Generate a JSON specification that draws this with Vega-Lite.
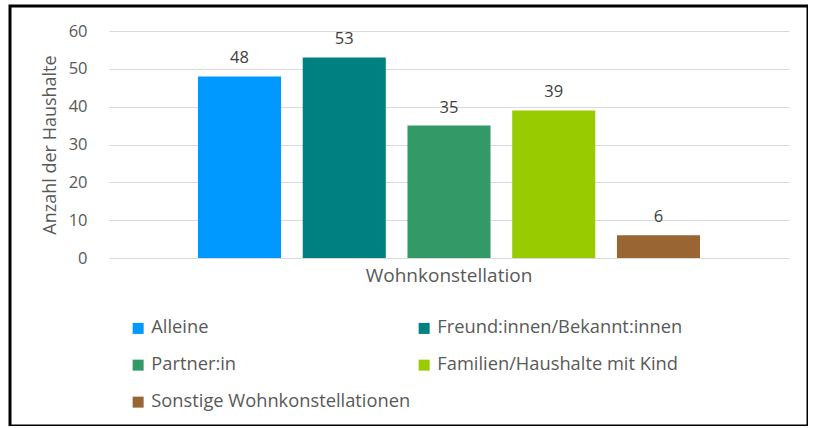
{
  "$schema": "https://vega.github.io/schema/vega-lite/v6.json",
  "width": 798,
  "height": 420,
  "autosize": {"type": "none"},
  "padding": {"left": 10, "top": 6, "right": 0, "bottom": 0},
  "background": "white",
  "config": {
    "view": {"stroke": "black", "strokeWidth": 3},
    "font": "Open Sans"
  },
  "data": {
    "values": [
      {"gruppe": "Wohnkonstellation", "kategorie": "Alleine", "anzahl": 48},
      {"gruppe": "Wohnkonstellation", "kategorie": "Freund:innen/Bekannt:innen", "anzahl": 53},
      {"gruppe": "Wohnkonstellation", "kategorie": "Partner:in", "anzahl": 35},
      {"gruppe": "Wohnkonstellation", "kategorie": "Familien/Haushalte mit Kind", "anzahl": 39},
      {"gruppe": "Wohnkonstellation", "kategorie": "Sonstige Wohnkonstellationen", "anzahl": 6}
    ]
  },
  "encoding": {
    "x": {
      "field": "gruppe",
      "type": "nominal",
      "scale": {"range": [99, 779], "paddingInner": 0, "paddingOuter": 0.1773},
      "axis": {
        "orient": "bottom",
        "offset": -168,
        "domain": false,
        "ticks": false,
        "tickSize": 0,
        "labelPadding": 8,
        "labelAngle": 0,
        "labelFontSize": 19,
        "labelColor": "#595959",
        "title": null,
        "grid": false
      }
    },
    "xOffset": {
      "field": "kategorie",
      "type": "nominal",
      "sort": ["Alleine", "Freund:innen/Bekannt:innen", "Partner:in", "Familien/Haushalte mit Kind", "Sonstige Wohnkonstellationen"],
      "scale": {"paddingInner": 0.207, "paddingOuter": 0}
    },
    "y": {
      "field": "anzahl",
      "type": "quantitative",
      "scale": {"domain": [0, 60], "range": [252, 25], "nice": false, "zero": true},
      "axis": {
        "values": [0, 10, 20, 30, 40, 50, 60],
        "offset": -81,
        "domain": false,
        "ticks": false,
        "tickSize": 0,
        "labelPadding": 4,
        "labelFontSize": 16.5,
        "labelColor": "#595959",
        "title": "Anzahl der Haushalte",
        "titleFontSize": 18,
        "titleFontWeight": "normal",
        "titleColor": "#595959",
        "titlePadding": 9,
        "grid": true,
        "gridColor": "#d9d9d9",
        "gridWidth": 1
      }
    }
  },
  "layer": [
    {
      "mark": {"type": "bar"},
      "encoding": {
        "color": {
          "field": "kategorie",
          "type": "nominal",
          "scale": {
            "domain": ["Alleine", "Freund:innen/Bekannt:innen", "Partner:in", "Familien/Haushalte mit Kind", "Sonstige Wohnkonstellationen"],
            "range": ["#0099FF", "#008080", "#339966", "#99CC00", "#996633"]
          },
          "legend": {
            "orient": "none",
            "legendX": 119,
            "legendY": 313,
            "direction": "horizontal",
            "columns": 2,
            "title": null,
            "symbolType": "square",
            "symbolSize": 121,
            "symbolStrokeWidth": 0,
            "labelFontSize": 18.3,
            "labelColor": "#595959",
            "labelOffset": 4,
            "labelLimit": 400,
            "rowPadding": 18,
            "columnPadding": 4,
            "padding": 0
          }
        }
      }
    },
    {
      "mark": {"type": "text", "dy": -13, "baseline": "alphabetic", "fontSize": 16.5, "color": "#404040"},
      "encoding": {
        "text": {"field": "anzahl", "type": "quantitative"}
      }
    }
  ]
}
